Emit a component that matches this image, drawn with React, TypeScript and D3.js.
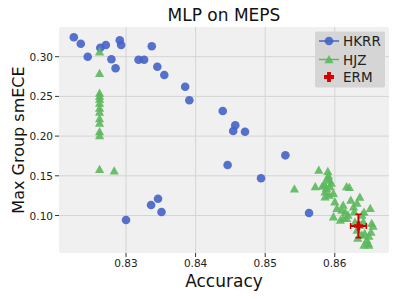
import React from "react";
import * as d3 from "d3";

const hkrrAcc = [0.8225, 0.8235, 0.8245, 0.8263, 0.8271, 0.8291, 0.8293, 0.8279, 0.8285, 0.8318, 0.8326, 0.8337, 0.8345, 0.8355, 0.8385, 0.8391, 0.8439, 0.8457, 0.8454, 0.8471, 0.8529, 0.8446, 0.8494, 0.8346, 0.8336, 0.8351, 0.8300, 0.8563];
const hkrrEce = [0.3244, 0.3164, 0.3000, 0.3113, 0.3147, 0.3207, 0.3147, 0.2967, 0.2854, 0.2962, 0.2962, 0.3131, 0.2874, 0.2770, 0.2622, 0.2451, 0.2316, 0.2136, 0.2064, 0.2055, 0.1758, 0.1636, 0.1469, 0.1212, 0.1132, 0.1044, 0.0943, 0.1031];

const hjzAcc = [0.8262, 0.8262, 0.8262, 0.8262, 0.8262, 0.8262, 0.8262, 0.8262, 0.8262, 0.8262, 0.8262, 0.8262, 0.8262, 0.8283,
  0.8542, 0.8572, 0.8577, 0.8590, 0.8591, 0.8592, 0.8585, 0.8588, 0.8593, 0.8586, 0.8586, 0.8598, 0.8600, 0.8603, 0.8598,
  0.8617, 0.8621, 0.8636, 0.8612, 0.8610, 0.8627, 0.8628, 0.8617, 0.8619, 0.8639, 0.8651, 0.8641, 0.8653, 0.8655, 0.8643,
  0.8646, 0.8648, 0.8632, 0.8636, 0.8612, 0.8608,
  0.8589, 0.8595, 0.8582, 0.8592, 0.8623, 0.8632, 0.8642, 0.8615, 0.8629, 0.8639, 0.8649, 0.8652, 0.8633, 0.8642, 0.8649];
const hjzEce = [0.3063, 0.2790, 0.2543, 0.2505, 0.2467, 0.2417, 0.2354, 0.2304, 0.2222, 0.2165, 0.2058, 0.2008, 0.1582, 0.1564,
  0.1336, 0.1365, 0.1573, 0.1557, 0.1501, 0.1447, 0.1393, 0.1343, 0.1363, 0.1300, 0.1237, 0.1280, 0.1174, 0.1091, 0.0985,
  0.1363, 0.1355, 0.1233, 0.1132, 0.1069, 0.1111, 0.1048, 0.0965, 0.1006, 0.1006, 0.1091, 0.0922, 0.0902, 0.0868, 0.0776,
  0.0691, 0.0650, 0.0817, 0.0880, 0.0965, 0.0943,
  0.1472, 0.1409, 0.1372, 0.1258, 0.1195, 0.1157, 0.1044, 0.1044, 0.0918, 0.0754, 0.0742, 0.0792, 0.0717, 0.0628, 0.0628];

const ermAcc = [0.8634];
const ermEce = [0.0868];
const ermAccErr = [0.00113];
const ermEceErr = [0.0147];

const xTicks = [0.83, 0.84, 0.85, 0.86];
const yTicks = [0.1, 0.15, 0.2, 0.25, 0.3];
const legendLabels = ["HKRR", "HJZ", "ERM"];

const W = 399, H = 299;
const L = 59, R = 389, T = 27, B = 253;
const BLUE = "#4563c6";
const GREEN = "#5cb85c";
const RED = "#d80000";
const FONT = "DejaVu Sans, sans-serif";

function tri(cx: number, cy: number, s: number) {
  return `M${cx},${cy - s}L${cx + s},${cy + s * 0.8}L${cx - s},${cy + s * 0.8}Z`;
}
function plus(cx: number, cy: number, s: number) {
  const a = s, b = s / 2.6;
  return `M${cx - b},${cy - a}H${cx + b}V${cy - b}H${cx + a}V${cy + b}H${cx + b}V${cy + a}H${cx - b}V${cy + b}H${cx - a}V${cy - b}H${cx - b}Z`;
}

export default function App() {
  const x = d3.scaleLinear().domain([0.82037, 0.86779]).range([L, R]);
  const y = d3.scaleLinear().domain([0.0528, 0.3374]).range([B, T]);
  const fmt = d3.format(".2f");
  const legY = [41, 59.5, 77];
  return (
    <svg width={W} height={H} style={{ position: "absolute", left: 0, top: 0, fontFamily: FONT }}>
      <rect x={0} y={0} width={W} height={H} fill="#ffffff" />
      <rect x={L} y={T} width={R - L} height={B - T} fill="#f0f0f0" />
      {xTicks.map((t) => (
        <g key={"x" + t}>
          <line x1={x(t)} x2={x(t)} y1={T} y2={B} stroke="#d4d4d4" strokeWidth={1} />
          <line x1={x(t)} x2={x(t)} y1={B} y2={B + 4} stroke="#333" strokeWidth={1} />
          <text x={x(t)} y={267} fontSize={10.5} textAnchor="middle" fill="#222">{fmt(t)}</text>
        </g>
      ))}
      {yTicks.map((t) => (
        <g key={"y" + t}>
          <line x1={L} x2={R} y1={y(t)} y2={y(t)} stroke="#d4d4d4" strokeWidth={1} />
          <line x1={L - 4} x2={L} y1={y(t)} y2={y(t)} stroke="#333" strokeWidth={1} />
          <text x={L - 6} y={y(t)} fontSize={10.5} textAnchor="end" dominantBaseline="central" fill="#222">{fmt(t)}</text>
        </g>
      ))}
      {hkrrAcc.map((a, i) => (
        <circle key={"h" + i} cx={x(a)} cy={y(hkrrEce[i])} r={4.3} fill={BLUE} fillOpacity={0.9} />
      ))}
      {hjzAcc.map((a, i) => (
        <path key={"j" + i} d={tri(x(a), y(hjzEce[i]), 4.6)} fill={GREEN} fillOpacity={0.9} />
      ))}
      {ermAcc.map((a, i) => {
        const cx = x(a), cy = y(ermEce[i]);
        const x0 = x(a - ermAccErr[i]), x1 = x(a + ermAccErr[i]);
        const y0 = y(ermEce[i] + ermEceErr[i]), y1 = y(ermEce[i] - ermEceErr[i]);
        return (
          <g key={"e" + i}>
            <line x1={x0} x2={x1} y1={cy} y2={cy} stroke="#c80000" strokeWidth={2} />
            <line x1={cx} x2={cx} y1={y0} y2={y1} stroke="#c80000" strokeWidth={2} />
            <line x1={x0} x2={x0} y1={cy - 3} y2={cy + 3} stroke="#c80000" strokeWidth={1.5} />
            <line x1={x1} x2={x1} y1={cy - 3} y2={cy + 3} stroke="#c80000" strokeWidth={1.5} />
            <line x1={cx - 3} x2={cx + 3} y1={y0} y2={y0} stroke="#c80000" strokeWidth={1.5} />
            <line x1={cx - 3} x2={cx + 3} y1={y1} y2={y1} stroke="#c80000" strokeWidth={1.5} />
            <path d={plus(cx, cy, 4.5)} fill={RED} />
          </g>
        );
      })}
      <rect x={315} y={31.5} width={70} height={56} rx={2} fill="#d5d5d5" />
      <line x1={319} x2={339} y1={legY[0]} y2={legY[0]} stroke={BLUE} strokeWidth={1.5} />
      <circle cx={329} cy={legY[0]} r={4.3} fill={BLUE} fillOpacity={0.9} />
      <line x1={319} x2={339} y1={legY[1]} y2={legY[1]} stroke={GREEN} strokeWidth={1.5} />
      <path d={tri(329, legY[1], 4.6)} fill={GREEN} fillOpacity={0.9} />
      <path d={plus(329, legY[2], 5)} fill={RED} />
      {legendLabels.map((l, i) => (
        <text key={l} x={343} y={legY[i]} fontSize={13.5} dominantBaseline="central" fill="#222">{l}</text>
      ))}
      <text x={(L + R) / 2} y={21} fontSize={17} textAnchor="middle" fill="#111">MLP on MEPS</text>
      <text x={(L + R) / 2} y={287} fontSize={17} textAnchor="middle" fill="#111">Accuracy</text>
      <text transform={`translate(24,${(T + B) / 2}) rotate(-90)`} fontSize={16} textAnchor="middle" fill="#111">Max Group smECE</text>
    </svg>
  );
}
